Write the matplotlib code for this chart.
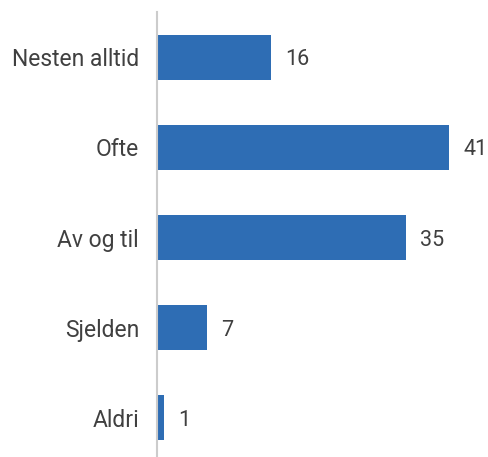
import matplotlib
matplotlib.use("Agg")
import matplotlib.pyplot as plt

# Data
categories = ["Nesten alltid", "Ofte", "Av og til", "Sjelden", "Aldri"]
values = [16, 41, 35, 7, 1]

bar_color = "#2E6DB4"
text_color = "#404040"

plt.rcParams["font.family"] = ["Roboto", "DejaVu Sans"]

fig = plt.figure(figsize=(4.89, 4.57), dpi=100)
W, H = 489, 457
ax = fig.add_axes([157 / W, 0, (W - 157) / W, (H - 12) / H])

y = list(range(len(categories)))
ax.barh(y, values, height=0.5, color=bar_color)

ax.set_xlim(0, 46.6)
ax.set_ylim(4.433, -0.5)

# verdietiketter til høyre for søylene
for yi, v in zip(y, values):
    ax.annotate(str(v), (v, yi), xytext=(14, 0), textcoords="offset pixels",
                va="center_baseline", ha="left", fontsize=15.5, color=text_color)

ax.set_yticks(y)
ax.set_yticklabels(categories, fontsize=16.5, color=text_color)
ax.tick_params(axis="y", length=0, pad=13)
ax.set_xticks([])

for s in ["top", "right", "bottom"]:
    ax.spines[s].set_visible(False)
ax.spines["left"].set_color("#cccccc")
ax.spines["left"].set_linewidth(1.5)

fig.savefig("out.png", dpi=100)
